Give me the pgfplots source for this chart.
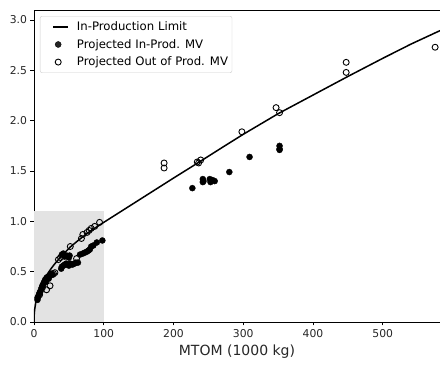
\documentclass[border=0pt]{standalone}
\usepackage{pgfplots}
\pgfplotsset{compat=1.18}
\usepackage{fontspec}
\setmainfont{DejaVu Sans}
\definecolor{shade}{RGB}{227,227,227}
\definecolor{legframe}{RGB}{204,204,204}
\pgfplotsset{
  legline/.style={legend image code/.code={\path[draw=none,fill=none] (0pt,0pt) -- (25pt,0pt); \draw[##1] (10pt,0pt) -- (25pt,0pt);}},
  legmark/.style={legend image code/.code={\path[draw=none,fill=none] (0pt,0pt) -- (25pt,0pt); \draw[##1] plot coordinates {(15pt,0pt)};}},
}
\begin{document}
\begin{tikzpicture}
\begin{axis}[
  scale only axis,
  width=406pt, height=312pt,
  xmin=0, xmax=582, ymin=0, ymax=3.1,
  axis x line=box, axis y line*=left,
  axis line style={line width=0.8pt, black},
  xtick={0,100,200,300,400,500},
  ytick={0,0.5,1,1.5,2,2.5,3},
  xtick pos=bottom, ytick pos=left,
  tick align=outside,
  major tick length=3.5pt,
  tick style={line width=0.8pt, black},
  /pgf/number format/assume math mode=true,
  yticklabel style={/pgf/number format/.cd, fixed, fixed zerofill, precision=1},
  xticklabel style={/pgf/number format/.cd, fixed},
  ticklabel style={font=\fontsize{10.8}{12}\selectfont, text=black!85},
  xlabel={MTOM (1000 kg)},
  xlabel style={font=\fontsize{14}{16}\selectfont, text=black!85, yshift=-1pt},
  legend cell align=left,
  legend style={at={(0,1)}, anchor=north west, xshift=6pt, yshift=-6pt,
    draw=legframe, rounded corners=2pt, fill=white, fill opacity=0.85, text opacity=1,
    font=\fontsize{11.7}{13}\selectfont, row sep=3.2pt, column sep=7pt,
    inner xsep=3pt, inner ysep=3.5pt,
    nodes={inner xsep=1pt}},
]
\addplot[fill=shade, draw=none, forget plot] coordinates {(0,0) (0,1.1) (100,1.1) (100,0)} -- cycle;

\addplot[black, line width=1.5pt, no markers, legline] coordinates {
(0,0) (0.05,0.03) (0.1,0.045) (0.3,0.07) (0.5,0.09) (1,0.126) (2,0.17) (3,0.21) (5,0.26) (7,0.30) (10,0.355) (14,0.42) (20,0.485) (25,0.535) (30,0.58) (40,0.66) (52,0.745) (65,0.82) (80,0.90) (100,0.99) (125,1.10) (150,1.21) (175,1.32) (200,1.43) (237,1.59) (270,1.735) (300,1.865) (350,2.07) (400,2.255) (450,2.44) (500,2.62) (540,2.76) (582,2.895)};
\addlegendentry{In-Production Limit}

\addplot[only marks, mark=*, mark size=3pt, black, mark options={fill=black}, legmark] coordinates {
(227,1.33) (242,1.42) (242,1.39) (243,1.40) (252,1.42) (253,1.39) (256,1.41) (259,1.40) (280,1.49) (309,1.64) (352,1.75) (352,1.72) (352,1.71)
(5,0.22) (5,0.24) (6,0.25) (7,0.27) (8,0.29) (9,0.30) (10,0.32) (11,0.34) (12,0.36) (13,0.37) (14,0.39) (15,0.40) (16,0.42) (17,0.40) (18,0.44) (20,0.45) (21,0.43) (23,0.46) (25,0.48) (27,0.47)
(39,0.53) (40,0.55) (42,0.56) (44,0.57) (46,0.58) (48,0.57) (50,0.56) (52,0.58) (55,0.57) (58,0.58) (60,0.59) (63,0.59)
(40,0.67) (42,0.68) (44,0.65) (47,0.66) (50,0.64) (51,0.66)
(66,0.67) (70,0.68) (73,0.69) (76,0.70) (78,0.71) (80,0.72) (82,0.75) (85,0.76) (90,0.79) (98,0.81)};
\addlegendentry{Projected In-Prod. MV}

\addplot[only marks, mark=o, mark size=3pt, black, mark options={line width=0.9pt}, legmark] coordinates {
(575,2.73) (447.5,2.58) (447.5,2.48) (347,2.13) (352,2.08) (298,1.89) (186.5,1.58) (186.5,1.53) (234,1.59) (236,1.58) (239,1.61)
(94,0.99) (87,0.95) (82,0.93) (79,0.91) (76,0.89) (70,0.87) (68,0.83) (52,0.75) (61,0.63) (35,0.62) (38,0.64) (30,0.49) (28,0.48) (23,0.36) (18,0.32) (12,0.34) (8,0.27)};
\addlegendentry{Projected Out of Prod. MV}

\coordinate (sw) at (rel axis cs:0,0);
\coordinate (ne) at (rel axis cs:1,1);
\end{axis}
\pgfresetboundingbox
\path[use as bounding box] ([xshift=-34pt,yshift=-45pt]sw) rectangle ([yshift=10pt]ne);
\end{tikzpicture}
\end{document}
